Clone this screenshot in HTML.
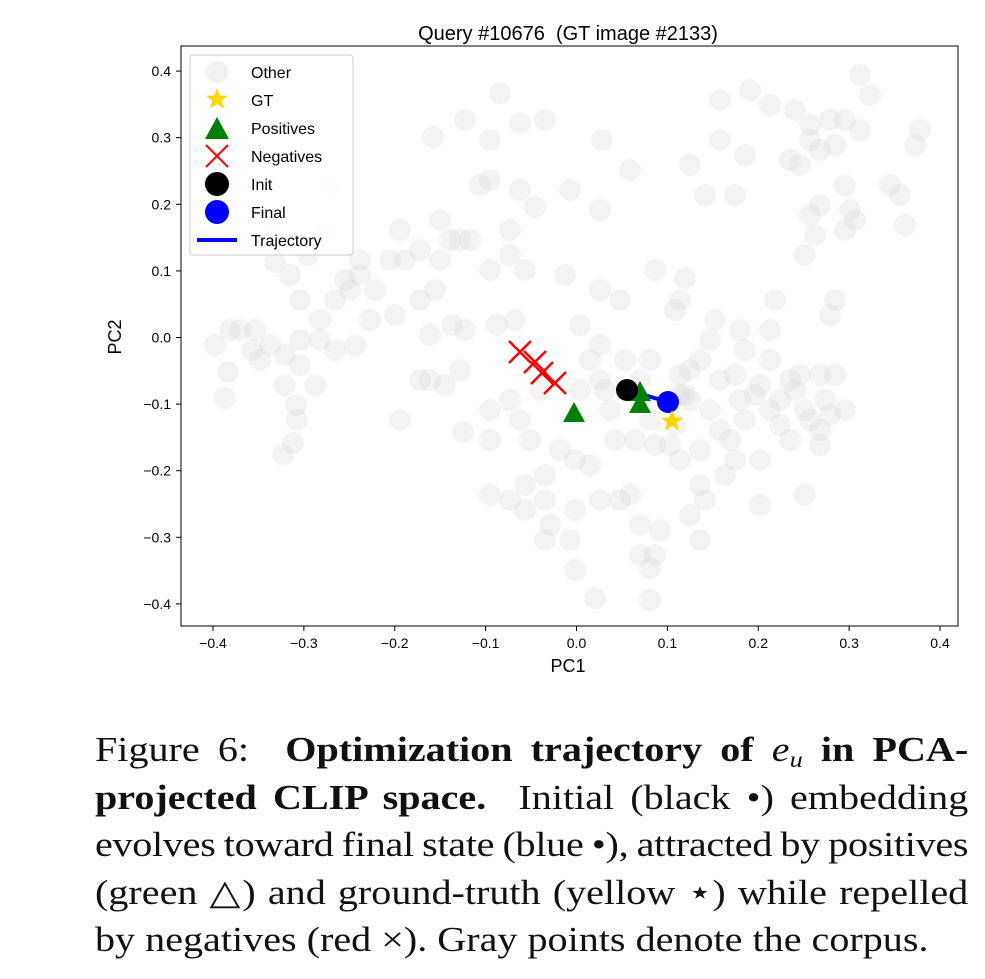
<!DOCTYPE html>
<html><head><style>
body{margin:0;background:#fff;width:985px;height:979px;overflow:hidden}
.cap{position:absolute;left:95px;width:762px;font-family:"Liberation Serif",serif;font-size:35px;top:726px;color:#111;transform:scaleX(1.146);transform-origin:0 0}
.cap div{height:47.5px;line-height:47.5px;text-align:justify;text-align-last:justify;white-space:nowrap}
.cap div.l{text-align-last:left}
.cap div.t{word-spacing:-5px;letter-spacing:-0.25px}
sub{font-size:23px;vertical-align:baseline;position:relative;top:6px;line-height:0}
</style></head><body>
<svg width="985" height="700" style="position:absolute;left:0;top:0" font-family="Liberation Sans, sans-serif">
<text x="568" y="40" font-size="20" text-anchor="middle">Query #10676&#160; (GT image #2133)</text>
<g id="pts" fill="#d8d8d8" fill-opacity="0.3"></g>
<g stroke="red" stroke-width="2.5">
<path d="M509 341l22 22M531 341l-22 22"/><path d="M524 351l22 22M546 351l-22 22"/>
<path d="M531 362l22 22M553 362l-22 22"/><path d="M544 372l22 22M566 372l-22 22"/></g>
<line x1="627" y1="390" x2="668" y2="402" stroke="blue" stroke-width="4"/>
<g fill="green"><path d="M574 402l-11 20h22z"/><path d="M640 381l-11 20h22z"/><path d="M640 393l-11 20h22z"/></g>
<circle cx="627" cy="390" r="11" fill="#000"/>
<circle cx="668" cy="402" r="11" fill="blue"/>
<path d="M672 410l3 7.5 8 .3-6.3 5 2.2 7.7-6.9-4.5-6.9 4.5 2.2-7.7-6.3-5 8-.3z" fill="gold"/>
<rect x="181" y="46" width="777" height="580" fill="none" stroke="#000" stroke-width="1"/>
<g font-size="14" text-anchor="middle" id="xt"></g>
<g font-size="14" text-anchor="end" id="yt"></g>
<text x="568" y="672" font-size="18" text-anchor="middle">PC1</text>
<text transform="translate(121 337) rotate(-90)" font-size="18" text-anchor="middle">PC2</text>
<rect x="190" y="55" width="163" height="200" rx="3" fill="#fff" fill-opacity="0.85" stroke="#ccc"/>
<g font-size="16">
<circle cx="217" cy="72" r="11" fill="#e8e8e8" fill-opacity="0.6"/><text x="251" y="78">Other</text>
<path d="M217 88l3 7.5 8 .3-6.3 5 2.2 7.7-6.9-4.5-6.9 4.5 2.2-7.7-6.3-5 8-.3z" fill="gold"/><text x="251" y="106">GT</text>
<path d="M217 117l-12 22h24z" fill="green"/><text x="251" y="134">Positives</text>
<path d="M206 145l22 22M228 145l-22 22" stroke="red" stroke-width="2"/><text x="251" y="162">Negatives</text>
<circle cx="217" cy="184" r="12" fill="#000"/><text x="251" y="190">Init</text>
<circle cx="217" cy="212" r="12" fill="blue"/><text x="251" y="218">Final</text>
<line x1="197" y1="240" x2="237" y2="240" stroke="blue" stroke-width="4"/><text x="251" y="246">Trajectory</text>
</g>
</svg>
<div class="cap">
<div>Figure 6:&#160; <b>Optimization trajectory of <i style="font-weight:normal">e<sub>u</sub></i> in PCA-</b></div>
<div><b>projected CLIP space.</b>&#160; Initial (black •) embedding</div>
<div class="t">evolves toward final state (blue •), attracted by positives</div>
<div>(green △) and ground-truth (yellow ⋆) while repelled</div>
<div class="l">by negatives (red ×). Gray points denote the corpus.</div>
</div>
<script>
var P=[[216,72],[270,98],[240,168],[232,188],[275,237],[330,187],[325,233],[275,262],[308,255],[290,275],[265,240],[300,300],[320,320],[335,300],[350,290],[360,275],[375,290],[390,260],[405,260],[240,330],[255,330],[270,345],[285,355],[300,340],[320,340],[335,350],[355,345],[370,320],[395,315],[215,345],[230,330],[260,360],[285,385],[300,365],[315,385],[296,405],[297,420],[293,443],[283,455],[225,398],[228,372],[252,350],[345,280],[360,260],[400,230],[420,250],[440,220],[450,240],[440,260],[460,240],[470,240],[435,290],[420,300],[430,335],[465,330],[452,325],[420,380],[430,380],[445,385],[460,370],[400,420],[463,432],[490,140],[465,120],[433,137],[490,180],[480,185],[520,190],[535,207],[545,120],[520,123],[500,93],[570,190],[510,230],[510,255],[525,270],[490,270],[497,325],[515,320],[580,325],[565,275],[600,290],[620,300],[602,140],[630,170],[600,210],[655,270],[685,278],[680,300],[675,310],[720,140],[690,165],[705,195],[735,195],[745,155],[720,100],[750,90],[770,105],[795,110],[810,125],[830,120],[845,120],[810,140],[820,150],[835,145],[860,130],[870,95],[860,75],[920,130],[915,145],[845,185],[800,165],[790,160],[820,205],[810,215],[815,235],[805,255],[845,230],[850,210],[855,220],[890,185],[900,195],[905,225],[835,300],[830,315],[775,300],[770,330],[740,330],[745,350],[770,360],[760,385],[755,395],[740,400],[720,380],[735,375],[710,340],[715,320],[700,360],[690,370],[685,395],[710,410],[720,430],[730,440],[745,420],[760,460],[735,460],[700,450],[680,460],[650,420],[640,400],[610,410],[615,440],[635,440],[655,445],[670,445],[600,380],[580,390],[590,360],[600,345],[625,360],[650,360],[640,380],[680,375],[680,395],[770,410],[780,400],[795,390],[800,375],[805,410],[810,420],[825,400],[830,415],[780,425],[790,440],[820,445],[845,410],[820,375],[835,375],[790,380],[700,485],[705,500],[690,515],[700,540],[640,525],[660,530],[640,555],[655,555],[650,568],[650,600],[595,598],[570,540],[575,570],[550,525],[545,540],[525,510],[510,500],[525,485],[545,475],[560,450],[575,460],[590,465],[600,500],[545,500],[530,440],[520,420],[510,400],[490,410],[490,440],[490,495],[540,390],[575,510],[675,425],[725,475],[760,505],[805,495],[820,430],[690,400],[620,500],[605,390],[630,495]];
var ns="http://www.w3.org/2000/svg",g=document.getElementById('pts');
P.forEach(function(p){var c=document.createElementNS(ns,'circle');c.setAttribute('cx',p[0]);c.setAttribute('cy',p[1]);c.setAttribute('r',11);g.appendChild(c);});
var xt=document.getElementById('xt'),yt=document.getElementById('yt');
for(var i=-4;i<=4;i++){var v=(i/10).toFixed(1).replace('-','\u2212');
var x=576.5+i*90.875;var l=document.createElementNS(ns,'line');l.setAttribute('x1',x);l.setAttribute('x2',x);l.setAttribute('y1',626);l.setAttribute('y2',631);l.setAttribute('stroke','#000');xt.appendChild(l);
var t=document.createElementNS(ns,'text');t.setAttribute('x',x);t.setAttribute('y',648);t.textContent=v;xt.appendChild(t);
var y=337.5-i*66.6;l=document.createElementNS(ns,'line');l.setAttribute('x1',176);l.setAttribute('x2',181);l.setAttribute('y1',y);l.setAttribute('y2',y);l.setAttribute('stroke','#000');yt.appendChild(l);
t=document.createElementNS(ns,'text');t.setAttribute('x',171);t.setAttribute('y',y+5);t.textContent=v;yt.appendChild(t);}
</script>
</body></html>
